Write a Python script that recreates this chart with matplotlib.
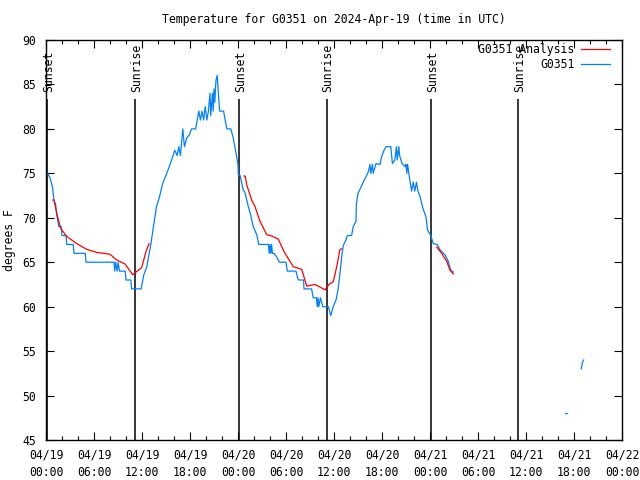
import matplotlib
matplotlib.use("Agg")
import matplotlib.pyplot as plt
from matplotlib.ticker import MultipleLocator

# ---------------- data (hours since 2024-04-19 00:00 UTC) ----------------
obs_hours = [0.2, 0.5, 0.8, 1.0, 1.2, 1.4, 1.6, 1.9, 2.0, 2.5, 2.6, 3.4, 3.5, 4.9, 5.0,
             8.5, 8.6, 8.7, 8.9, 9.0, 9.2, 9.9, 10.0, 10.6, 10.7, 11.9, 12.2, 12.4, 12.6,
             12.9, 13.1, 13.5, 13.8, 14.2, 14.6, 15.1, 15.7, 16.1, 16.4, 16.6, 16.8, 17.1,
             17.3, 17.6, 17.9, 18.2, 18.7, 18.9, 19.1, 19.3, 19.5, 19.7, 19.9, 20.1, 20.3,
             20.5, 20.6, 20.8, 20.9, 21.0, 21.1, 21.25, 21.4, 21.7, 22.2, 22.6, 23.1, 23.4,
             23.8, 24.0, 24.04, 24.25, 24.46, 24.66, 24.85, 25.09, 25.29, 25.59, 25.75, 25.91,
             26.1, 26.34, 26.6, 27.8, 27.9, 28.0, 28.1, 28.2, 28.3, 28.5, 28.84, 29.16, 30.0,
             30.16, 31.25, 31.46, 31.6, 32.2, 32.25, 33.2, 33.4, 33.8, 33.9, 34.0, 34.1, 34.3,
             34.6, 35.3, 35.6, 35.9, 36.25, 36.5, 36.75, 36.96, 37.16, 37.5, 37.66, 38.2,
             38.4, 38.75, 38.8, 39.0, 39.3, 39.7, 40.0, 40.3, 40.5, 40.6, 40.8, 40.9, 41.25,
             41.75, 41.96, 42.25, 42.5, 43.1, 43.3, 43.6, 43.8, 43.9, 44.1, 44.2, 44.5, 44.9,
             45.0, 45.1, 45.2, 45.5, 45.7, 45.9, 46.1, 46.3, 46.5, 46.75, 47.1, 47.5, 47.7,
             48.1, 48.4, 48.9, 49.25, 49.9, 50.3, 50.6, 50.9]
obs_temps = [75, 74.5, 73.5, 72, 71.5, 70, 69, 69, 68, 68, 67, 67, 66, 66, 65,
             65, 64, 65, 64, 65, 64, 64, 63, 63, 62, 62, 63.5, 64, 64.5,
             66, 67, 69.4, 71.2, 72.4, 73.9, 75, 76.5, 77.6, 77, 78, 77, 80,
             78, 79, 79.3, 80, 80, 81, 82, 81, 82, 81, 82.5, 81, 82,
             84, 81.5, 84, 82, 84.5, 83, 85.5, 86, 82, 82, 80, 80, 79,
             77, 76, 74.8, 74.8, 73.9, 73.1, 72.9, 72, 71.25, 70.3, 69.6, 69,
             68.6, 68.1, 67, 67, 66, 67, 66, 67, 66, 66, 65.6, 65, 65,
             64, 64, 63.2, 63, 63, 62, 62, 61, 61, 60, 61, 60, 61,
             60, 60, 59, 60, 60.75, 61.9, 63.75, 65.6, 66.9, 67.5, 68, 68,
             69, 69.6, 71.6, 72.75, 73.3, 74.1, 74.6, 75.2, 76, 75, 76, 75, 76.1,
             76, 76.9, 77.6, 78, 78, 76.1, 76.5, 78, 76.5, 78, 77, 76.1, 75.75,
             76, 75, 76, 74.1, 73, 74, 73, 74, 73, 72.4, 71.1, 70.1, 68.6,
             68, 67.1, 67, 66.4, 65.8, 65.06, 64.1, 63.9]

obs2_hours = [64.9, 65.1]
obs2_temps = [48, 48]
obs3_hours = [66.9, 67.05, 67.2]
obs3_temps = [53, 53.7, 54]

ana1_hours = [0.84, 1.0, 1.34, 1.84, 2.59, 3.84, 5.09, 6.34, 8.0, 8.84, 9.88, 10.84, 11.54, 11.96, 12.5, 12.88]
ana1_temps = [72, 72, 70.5, 68.8, 67.9, 67.1, 66.45, 66.1, 65.9, 65.25, 64.8, 63.6, 64.1, 64.4, 66.2, 67.1]
ana2_hours = [24.75, 24.9, 25.09, 25.71, 26.13, 26.75, 27.59, 28.21, 29.04, 29.75, 30.29, 30.91,
              31.96, 32.6, 33.6, 34.16, 34.88, 35.41, 35.91, 36.34, 36.75, 36.96]
ana2_temps = [74.7, 74.7, 73.7, 72, 71.25, 69.6, 68.1, 67.95, 67.6, 66.2, 65.4, 64.5,
              64.2, 62.3, 62.5, 62.25, 61.9, 62.55, 62.8, 64.5, 66.45, 66.5]
ana3_hours = [48.84, 49.46, 50.09, 50.5, 50.91]
ana3_temps = [66.7, 66.0, 65.1, 64.1, 63.7]

sun_hours = [0.13, 11.17, 24.15, 35.08, 48.13, 59.05]
sun_labels = ["Sunset", "Sunrise", "Sunset", "Sunrise", "Sunset", "Sunrise"]

tick_hours = list(range(0, 73, 6))
tick_labels = ["04/19\n00:00", "04/19\n06:00", "04/19\n12:00", "04/19\n18:00",
               "04/20\n00:00", "04/20\n06:00", "04/20\n12:00", "04/20\n18:00",
               "04/21\n00:00", "04/21\n06:00", "04/21\n12:00", "04/21\n18:00",
               "04/22\n00:00"]
y_ticks = [45, 50, 55, 60, 65, 70, 75, 80, 85, 90]

title = "Temperature for G0351 on 2024-Apr-19 (time in UTC)"

# ---------------- plot ----------------
plt.rcParams['font.family'] = ['DejaVu Sans Mono']
FS = 8.3
RED = '#ff0000'
BLUE = '#0080ff'

fig = plt.figure(figsize=(6.4, 4.8), dpi=100)
ax = fig.add_axes([46/640, 40/480, 576/640, 400/480])

ax.set_xlim(0, 72)
ax.set_ylim(45, 90)

# sunrise/sunset lines
for h, lab in zip(sun_hours, sun_labels):
    ax.vlines(h, 45, 83.4, color='black', lw=1.1, zorder=1)
    ax.text(h + 0.2, 84.15, lab, rotation=90, ha='center', va='bottom', fontsize=FS)

ax.plot(ana1_hours, ana1_temps, color=RED, lw=0.9, label='G0351 Analysis', zorder=3)
ax.plot(ana2_hours, ana2_temps, color=RED, lw=0.9, zorder=3)
ax.plot(ana3_hours, ana3_temps, color=RED, lw=0.9, zorder=3)
ax.plot(obs_hours, obs_temps, color=BLUE, lw=0.9, label='G0351', zorder=2)
ax.plot(obs2_hours, obs2_temps, color=BLUE, lw=0.9, zorder=2)
ax.plot(obs3_hours, obs3_temps, color=BLUE, lw=0.9, zorder=2)

ax.set_xticks(tick_hours)
ax.set_xticklabels(tick_labels, linespacing=1.45)
ax.xaxis.set_minor_locator(MultipleLocator(2))
ax.set_yticks(y_ticks)
ax.tick_params(axis='both', which='major', direction='in', length=6, width=0.8,
               top=True, right=True, labelsize=FS)
ax.tick_params(axis='both', which='minor', direction='in', length=3, width=0.8,
               top=True, right=True)
ax.tick_params(axis='x', pad=6)
ax.tick_params(axis='y', pad=7)
for s in ax.spines.values():
    s.set_linewidth(1.0)

leg = ax.legend(loc='upper right', bbox_to_anchor=((610 - 46) / 576, 1 - 3 / 400),
                markerfirst=False, frameon=False, fontsize=FS,
                handlelength=2.5, handletextpad=0.6, labelspacing=0.15,
                borderaxespad=0.0, borderpad=0.0)

fig.text(334/640, 1 - 19/480, title, ha='center', va='center', fontsize=FS)
fig.text(10/640, 0.5, "degrees F", rotation=90, ha='center', va='center', fontsize=FS)

fig.savefig("out.png", dpi=100)
